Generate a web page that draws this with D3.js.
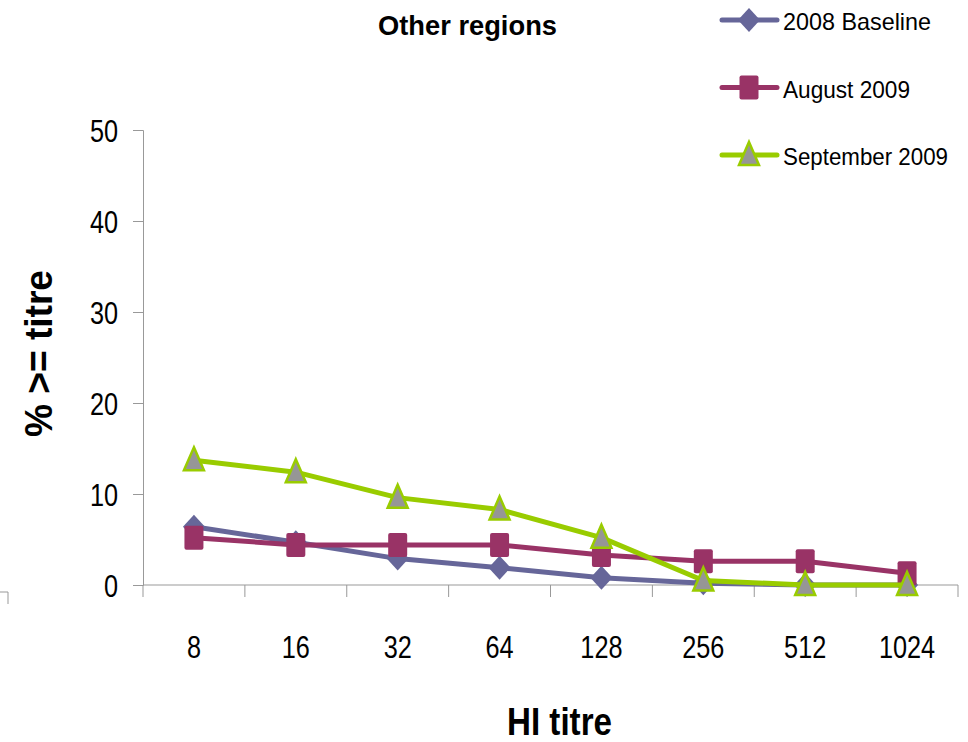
<!DOCTYPE html>
<html>
<head>
<meta charset="utf-8">
<script src="https://cdn.jsdelivr.net/npm/d3@7"></script>
<style>
  body { margin: 0; background: #fff; }
  text { font-family: "Liberation Sans", Arial, sans-serif; fill: #000; }
</style>
</head>
<body>
<div id="chart"></div>
<script>
  const titres = ["8", "16", "32", "64", "128", "256", "512", "1024"];
  const baseline2008 = [6.4, 4.7, 2.9, 1.9, 0.8, 0.2, 0, 0];
  const august2009 = [5.2, 4.4, 4.4, 4.4, 3.3, 2.6, 2.6, 1.3];
  const september2009 = [13.7, 12.4, 9.6, 8.3, 5.2, 0.5, 0, 0];
  const yTicks = [0, 10, 20, 30, 40, 50];

  const series = [
    { name: "2008 Baseline", values: baseline2008, color: "#666699", marker: "diamond", len: 148 },
    { name: "August 2009", values: august2009, color: "#993366", marker: "square", len: 127 },
    { name: "September 2009", values: september2009, color: "#99cc00", marker: "triangle", len: 165 }
  ];

  const width = 968;
  const height = 742;
  const svg = d3.select("#chart")
    .append("svg")
    .attr("width", width)
    .attr("height", height);

  const x = d3.scaleBand().domain(titres).range([143, 958]);
  const y = d3.scaleLinear().domain([0, 50]).range([585, 130]);

  // narrow text: squeeze horizontally to look like the original condensed font
  const narrowText = (parent, px, py, str, size, anchor) =>
    parent.append("text")
      .attr("transform", `translate(${px},${py}) scale(0.79,1)`)
      .attr("text-anchor", anchor)
      .attr("font-size", size)
      .text(str);

  // y axis
  const yAxis = svg.append("g")
    .attr("transform", "translate(143,0)")
    .call(d3.axisLeft(y).tickValues(yTicks).tickSize(10).tickFormat(""));
  yAxis.select(".domain").attr("stroke", "#999");
  yAxis.selectAll(".tick line").attr("stroke", "#999");
  yTicks.forEach(t => narrowText(svg, 118, y(t) + 11.5, t, 32, "end"));

  // x axis, ticks on category boundaries
  const xAxis = svg.append("g").attr("transform", "translate(0,585)");
  xAxis.append("line")
    .attr("x1", 143).attr("x2", 958)
    .attr("stroke", "#999");
  const bounds = titres.map(d => x(d)).concat([x.range()[1]]);
  xAxis.selectAll(".bound")
    .data(bounds)
    .join("line")
    .attr("class", "bound")
    .attr("x1", d => d).attr("x2", d => d)
    .attr("y1", 0).attr("y2", 12)
    .attr("stroke", "#999");
  titres.forEach(d => narrowText(svg, x(d) + x.bandwidth() / 2, 658, d, 32, "middle"));

  // stray corner mark at the left edge
  svg.append("path")
    .attr("d", "M0,592H8V604")
    .attr("fill", "none")
    .attr("stroke", "#999");

  const cx = i => x(titres[i]) + x.bandwidth() / 2;

  const drawMarker = (g, s, px, py) => {
    if (s.marker === "diamond") {
      g.append("path")
        .attr("d", `M${px},${py - 12}L${px + 11},${py}L${px},${py + 12}L${px - 11},${py}Z`)
        .attr("fill", s.color);
    } else if (s.marker === "square") {
      g.append("rect")
        .attr("x", px - 9.5).attr("y", py - 12)
        .attr("width", 19).attr("height", 24)
        .attr("rx", 2)
        .attr("fill", s.color);
    } else {
      g.append("path")
        .attr("d", `M${px},${py - 13}L${px + 10},${py + 10}L${px - 10},${py + 10}Z`)
        .attr("fill", "#969696")
        .attr("stroke", s.color)
        .attr("stroke-width", 2.5);
    }
  };

  const line = d3.line()
    .x((d, i) => cx(i))
    .y(d => y(d));

  series.forEach(s => {
    const g = svg.append("g");
    g.append("path")
      .datum(s.values)
      .attr("d", line)
      .attr("fill", "none")
      .attr("stroke", s.color)
      .attr("stroke-width", 5)
      .attr("stroke-linejoin", "round");
    s.values.forEach((v, i) => drawMarker(g, s, cx(i), y(v)));
  });

  // legend
  const legend = svg.append("g");
  series.forEach((s, i) => {
    const ly = 20 + i * 67.5;
    const g = legend.append("g");
    g.append("line")
      .attr("x1", 722).attr("x2", 777)
      .attr("y1", ly).attr("y2", ly)
      .attr("stroke", s.color)
      .attr("stroke-width", 5)
      .attr("stroke-linecap", "round");
    drawMarker(g, s, 749, ly);
    g.append("text")
      .attr("x", 783)
      .attr("y", ly + 10)
      .attr("font-size", 24)
      .attr("textLength", s.len)
      .attr("lengthAdjust", "spacingAndGlyphs")
      .text(s.name);
  });

  // titles
  svg.append("text")
    .attr("x", 378).attr("y", 35)
    .attr("font-size", 28)
    .attr("font-weight", "bold")
    .attr("textLength", 179)
    .attr("lengthAdjust", "spacingAndGlyphs")
    .text("Other regions");

  svg.append("text")
    .attr("x", 507).attr("y", 735)
    .attr("font-size", 39)
    .attr("font-weight", "bold")
    .attr("textLength", 105)
    .attr("lengthAdjust", "spacingAndGlyphs")
    .text("HI titre");

  svg.append("text")
    .attr("transform", "translate(52,437) rotate(-90)")
    .attr("font-size", 39)
    .attr("font-weight", "bold")
    .attr("textLength", 167)
    .attr("lengthAdjust", "spacingAndGlyphs")
    .text("% >= titre");
</script>
</body>
</html>
